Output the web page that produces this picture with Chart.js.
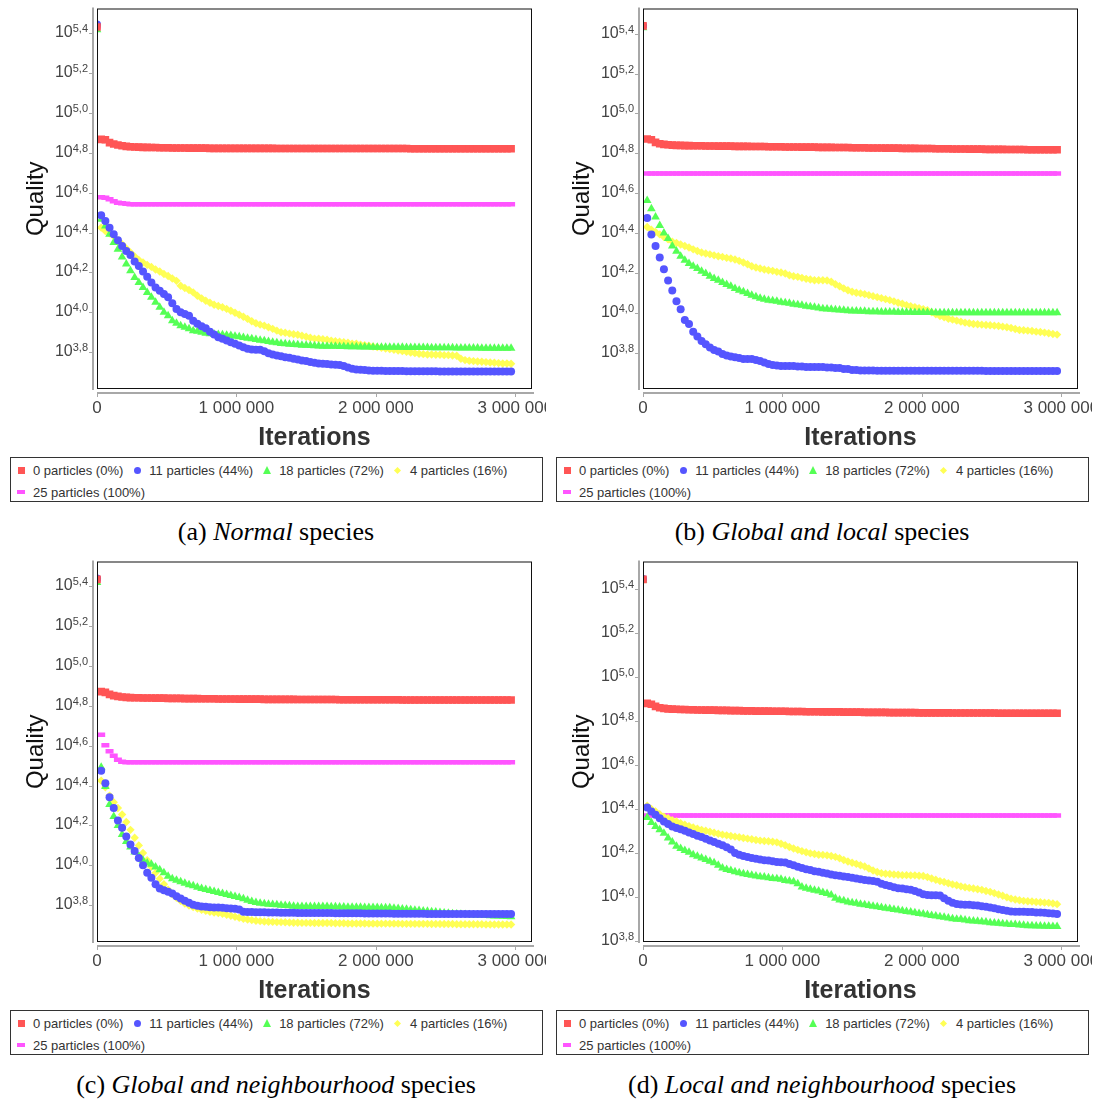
<!DOCTYPE html>
<html>
<head>
<meta charset="utf-8">
<script src="https://cdn.jsdelivr.net/npm/chart.js@4.4.1/dist/chart.umd.min.js"></script>
<style>
  body { margin: 0; background: #fff; width: 1101px; height: 1101px; position: relative; overflow: hidden; font-family: "Liberation Sans", Arial, sans-serif; }
  canvas { position: absolute; }
  .legend { position: absolute; width: 531px; height: 43px; border: 1px solid #333; }
  .row { position: absolute; left: 6px; height: 22px; display: flex; align-items: center; font-size: 13px; color: #333; white-space: nowrap; }
  .item { display: flex; align-items: center; margin-right: 10px; }
  .mk { width: 8px; height: 8px; margin-right: 8px; display: flex; align-items: center; justify-content: center; }
  .caption { position: absolute; width: 552px; text-align: center; line-height: 30px; font-family: "Liberation Serif", "Times New Roman", serif; font-size: 26px; color: #000; }
</style>
</head>
<body>
<canvas id="chartA" width="546" height="452" style="left:0;top:0"></canvas>
<canvas id="chartB" width="546" height="452" style="left:546px;top:0"></canvas>
<canvas id="chartC" width="546" height="452" style="left:0;top:553px"></canvas>
<canvas id="chartD" width="546" height="452" style="left:546px;top:553px"></canvas>

<script>
// sampling grid: one point every 30 000 iterations
const sampleStep = 30000;

const seriesLabels = ['0 particles (0%)', '11 particles (44%)', '18 particles (72%)', '4 particles (16%)', '25 particles (100%)'];
const seriesColors = ['#FF5555', '#5555FF', '#55FF55', '#FFFF55', '#FF55FF'];

const xTickValues = [0, 1000000, 2000000, 3000000];
const xTickLabels = ['0', '1 000 000', '2 000 000', '3 000 000'];
const yTickExps = [3.8, 4.0, 4.2, 4.4, 4.6, 4.8, 5.0, 5.2, 5.4];
const yTickLabels = ['3,8', '4,0', '4,2', '4,4', '4,6', '4,8', '5,0', '5,2', '5,4'];

// values are log10(quality)
// (a) Normal species
const aRed = [
  5.432, 4.868, 4.866, 4.852, 4.845, 4.840, 4.836, 4.833, 4.831, 4.830,
  4.829, 4.828, 4.828, 4.827, 4.827, 4.826, 4.826, 4.826, 4.825, 4.825,
  4.825, 4.825, 4.824, 4.824, 4.824, 4.824, 4.824, 4.823, 4.823, 4.823,
  4.823, 4.823, 4.823, 4.823, 4.823, 4.823, 4.823, 4.823, 4.823, 4.823,
  4.823, 4.823, 4.823, 4.822, 4.822, 4.822, 4.822, 4.822, 4.822, 4.822,
  4.822, 4.822, 4.822, 4.822, 4.822, 4.822, 4.822, 4.822, 4.822, 4.822,
  4.822, 4.822, 4.822, 4.822, 4.822, 4.822, 4.822, 4.822, 4.822, 4.822,
  4.822, 4.822, 4.822, 4.822, 4.822, 4.821, 4.821, 4.821, 4.821, 4.821,
  4.821, 4.821, 4.821, 4.821, 4.821, 4.821, 4.821, 4.821, 4.821, 4.821,
  4.821, 4.821, 4.821, 4.821, 4.821, 4.821, 4.821, 4.821, 4.821, 4.821
];
const aBlue = [
  5.445, 4.487, 4.458, 4.425, 4.392, 4.362, 4.333, 4.308, 4.288, 4.255,
  4.233, 4.205, 4.178, 4.150, 4.125, 4.108, 4.092, 4.075, 4.045, 4.017,
  4.000, 3.992, 3.983, 3.958, 3.942, 3.930, 3.920, 3.903, 3.888, 3.875,
  3.867, 3.858, 3.850, 3.842, 3.833, 3.825, 3.817, 3.813, 3.812, 3.812,
  3.805, 3.795, 3.788, 3.783, 3.780, 3.775, 3.772, 3.767, 3.763, 3.758,
  3.755, 3.750, 3.747, 3.743, 3.742, 3.740, 3.738, 3.737, 3.735, 3.730,
  3.723, 3.717, 3.713, 3.712, 3.710, 3.708, 3.707, 3.706, 3.706, 3.705,
  3.705, 3.705, 3.705, 3.705, 3.704, 3.704, 3.704, 3.704, 3.704, 3.704,
  3.704, 3.704, 3.703, 3.703, 3.703, 3.703, 3.703, 3.703, 3.703, 3.703,
  3.703, 3.703, 3.703, 3.703, 3.703, 3.703, 3.703, 3.703, 3.703, 3.703
];
const aGreen = [
  5.418, 4.467, 4.433, 4.392, 4.350, 4.317, 4.278, 4.242, 4.208, 4.175,
  4.150, 4.125, 4.100, 4.075, 4.050, 4.025, 4.000, 3.983, 3.958, 3.945,
  3.933, 3.925, 3.917, 3.908, 3.905, 3.900, 3.895, 3.892, 3.890, 3.888,
  3.887, 3.885, 3.883, 3.880, 3.877, 3.873, 3.870, 3.867, 3.863, 3.860,
  3.857, 3.853, 3.850, 3.847, 3.843, 3.842, 3.840, 3.838, 3.837, 3.835,
  3.834, 3.833, 3.832, 3.831, 3.830, 3.830, 3.829, 3.829, 3.828, 3.828,
  3.827, 3.827, 3.827, 3.826, 3.826, 3.826, 3.825, 3.825, 3.825, 3.825,
  3.824, 3.824, 3.824, 3.824, 3.823, 3.823, 3.823, 3.823, 3.823, 3.823,
  3.822, 3.822, 3.822, 3.822, 3.822, 3.822, 3.821, 3.821, 3.821, 3.821,
  3.821, 3.821, 3.820, 3.820, 3.820, 3.820, 3.820, 3.820, 3.820, 3.820
];
const aYellow = [
  5.440, 4.425, 4.408, 4.397, 4.382, 4.362, 4.342, 4.320, 4.300, 4.280,
  4.263, 4.250, 4.238, 4.228, 4.215, 4.205, 4.192, 4.182, 4.170, 4.158,
  4.133, 4.122, 4.112, 4.100, 4.083, 4.070, 4.058, 4.048, 4.038, 4.032,
  4.025, 4.017, 4.008, 3.998, 3.988, 3.978, 3.967, 3.955, 3.945, 3.938,
  3.933, 3.925, 3.917, 3.908, 3.900, 3.897, 3.893, 3.890, 3.887, 3.882,
  3.877, 3.872, 3.868, 3.867, 3.865, 3.862, 3.858, 3.855, 3.852, 3.850,
  3.847, 3.843, 3.842, 3.838, 3.835, 3.832, 3.828, 3.825, 3.822, 3.818,
  3.815, 3.812, 3.808, 3.805, 3.802, 3.798, 3.795, 3.792, 3.790, 3.788,
  3.788, 3.787, 3.787, 3.785, 3.785, 3.783, 3.782, 3.767, 3.760, 3.757,
  3.755, 3.753, 3.752, 3.750, 3.748, 3.747, 3.745, 3.743, 3.743, 3.742
];
const aMagenta = [
  5.436, 4.578, 4.575, 4.567, 4.557, 4.550, 4.547, 4.545, 4.543, 4.542,
  4.542, 4.542, 4.542, 4.542, 4.542, 4.542, 4.542, 4.542, 4.542, 4.542,
  4.542, 4.542, 4.542, 4.542, 4.542, 4.542, 4.542, 4.542, 4.542, 4.542,
  4.542, 4.542, 4.542, 4.542, 4.542, 4.542, 4.542, 4.542, 4.542, 4.542,
  4.542, 4.542, 4.542, 4.542, 4.542, 4.542, 4.542, 4.542, 4.542, 4.542,
  4.542, 4.542, 4.542, 4.542, 4.542, 4.542, 4.542, 4.542, 4.542, 4.542,
  4.542, 4.542, 4.542, 4.542, 4.542, 4.542, 4.542, 4.542, 4.542, 4.542,
  4.542, 4.542, 4.542, 4.542, 4.542, 4.542, 4.542, 4.542, 4.542, 4.542,
  4.542, 4.542, 4.542, 4.542, 4.542, 4.542, 4.542, 4.542, 4.542, 4.542,
  4.542, 4.542, 4.542, 4.542, 4.542, 4.542, 4.542, 4.542, 4.542, 4.542
];

// (b) Global and local species
const bRed = [
  5.440, 4.872, 4.868, 4.855, 4.848, 4.845, 4.843, 4.841, 4.840, 4.840,
  4.839, 4.839, 4.838, 4.838, 4.838, 4.837, 4.837, 4.837, 4.836, 4.836,
  4.836, 4.836, 4.835, 4.835, 4.835, 4.835, 4.834, 4.834, 4.834, 4.834,
  4.833, 4.833, 4.833, 4.833, 4.832, 4.832, 4.832, 4.832, 4.831, 4.831,
  4.831, 4.831, 4.830, 4.830, 4.830, 4.830, 4.829, 4.829, 4.829, 4.829,
  4.828, 4.828, 4.828, 4.828, 4.827, 4.827, 4.827, 4.827, 4.826, 4.826,
  4.826, 4.826, 4.825, 4.825, 4.825, 4.825, 4.824, 4.824, 4.824, 4.824,
  4.823, 4.823, 4.823, 4.823, 4.822, 4.822, 4.822, 4.822, 4.821, 4.821,
  4.821, 4.821, 4.820, 4.820, 4.820, 4.820, 4.820, 4.819, 4.819, 4.819,
  4.819, 4.819, 4.818, 4.818, 4.818, 4.818, 4.818, 4.818, 4.818, 4.818
];
const bBlue = [
  5.440, 4.475, 4.393, 4.335, 4.277, 4.218, 4.162, 4.112, 4.058, 4.017,
  3.963, 3.943, 3.905, 3.880, 3.858, 3.842, 3.825, 3.813, 3.805, 3.793,
  3.785, 3.780, 3.777, 3.772, 3.768, 3.768, 3.767, 3.763, 3.757, 3.750,
  3.742, 3.737, 3.735, 3.733, 3.733, 3.732, 3.732, 3.730, 3.730, 3.728,
  3.728, 3.727, 3.727, 3.727, 3.725, 3.725, 3.723, 3.722, 3.718, 3.717,
  3.713, 3.712, 3.710, 3.710, 3.710, 3.710, 3.709, 3.709, 3.709, 3.709,
  3.709, 3.709, 3.708, 3.708, 3.708, 3.708, 3.708, 3.708, 3.708, 3.708,
  3.708, 3.708, 3.708, 3.708, 3.708, 3.708, 3.708, 3.708, 3.708, 3.708,
  3.708, 3.708, 3.707, 3.707, 3.707, 3.707, 3.707, 3.707, 3.707, 3.707,
  3.707, 3.707, 3.707, 3.707, 3.707, 3.707, 3.707, 3.707, 3.707, 3.707
];
const bGreen = [
  5.430, 4.563, 4.522, 4.480, 4.438, 4.400, 4.372, 4.335, 4.308, 4.283,
  4.263, 4.247, 4.233, 4.222, 4.208, 4.197, 4.183, 4.172, 4.163, 4.152,
  4.142, 4.133, 4.122, 4.113, 4.105, 4.097, 4.088, 4.080, 4.073, 4.068,
  4.063, 4.060, 4.057, 4.053, 4.050, 4.047, 4.043, 4.040, 4.037, 4.033,
  4.030, 4.027, 4.023, 4.020, 4.018, 4.017, 4.015, 4.013, 4.012, 4.010,
  4.008, 4.008, 4.007, 4.007, 4.005, 4.005, 4.005, 4.004, 4.004, 4.003,
  4.003, 4.002, 4.002, 4.002, 4.002, 4.001, 4.001, 4.001, 4.001, 4.001,
  4.000, 4.000, 4.000, 4.000, 4.000, 4.000, 4.000, 4.000, 4.000, 4.000,
  4.000, 4.000, 4.000, 4.000, 4.000, 4.000, 4.000, 4.000, 4.000, 4.000,
  4.000, 4.000, 4.000, 4.000, 4.000, 4.000, 4.000, 4.000, 4.000, 4.000
];
const bYellow = [
  5.440, 4.430, 4.417, 4.405, 4.393, 4.380, 4.368, 4.357, 4.350, 4.342,
  4.335, 4.327, 4.318, 4.310, 4.302, 4.297, 4.293, 4.288, 4.283, 4.280,
  4.275, 4.272, 4.267, 4.260, 4.252, 4.243, 4.233, 4.227, 4.222, 4.217,
  4.213, 4.210, 4.205, 4.202, 4.197, 4.188, 4.183, 4.180, 4.175, 4.170,
  4.167, 4.163, 4.163, 4.163, 4.162, 4.155, 4.143, 4.133, 4.122, 4.113,
  4.105, 4.100, 4.097, 4.093, 4.088, 4.083, 4.078, 4.073, 4.068, 4.063,
  4.057, 4.050, 4.045, 4.038, 4.033, 4.028, 4.023, 4.018, 4.012, 4.002,
  3.992, 3.983, 3.977, 3.970, 3.965, 3.960, 3.955, 3.950, 3.947, 3.943,
  3.942, 3.940, 3.938, 3.937, 3.935, 3.933, 3.930, 3.927, 3.923, 3.918,
  3.913, 3.912, 3.910, 3.908, 3.905, 3.903, 3.900, 3.897, 3.893, 3.890
];
const bMagenta = [
  5.440, 4.699, 4.699, 4.699, 4.699, 4.699, 4.699, 4.699, 4.699, 4.699,
  4.699, 4.699, 4.699, 4.699, 4.699, 4.699, 4.699, 4.699, 4.699, 4.699,
  4.699, 4.699, 4.699, 4.699, 4.699, 4.699, 4.699, 4.699, 4.699, 4.699,
  4.699, 4.699, 4.699, 4.699, 4.699, 4.699, 4.699, 4.699, 4.699, 4.699,
  4.699, 4.699, 4.699, 4.699, 4.699, 4.699, 4.699, 4.699, 4.699, 4.699,
  4.699, 4.699, 4.699, 4.699, 4.699, 4.699, 4.699, 4.699, 4.699, 4.699,
  4.699, 4.699, 4.699, 4.699, 4.699, 4.699, 4.699, 4.699, 4.699, 4.699,
  4.699, 4.699, 4.699, 4.699, 4.699, 4.699, 4.699, 4.699, 4.699, 4.699,
  4.699, 4.699, 4.699, 4.699, 4.699, 4.699, 4.699, 4.699, 4.699, 4.699,
  4.699, 4.699, 4.699, 4.699, 4.699, 4.699, 4.699, 4.699, 4.699, 4.699
];

// (c) Global and neighbourhood species
const cRed = [
  5.435, 4.872, 4.868, 4.858, 4.852, 4.848, 4.845, 4.843, 4.842, 4.841,
  4.841, 4.840, 4.840, 4.840, 4.839, 4.839, 4.839, 4.838, 4.838, 4.838,
  4.838, 4.837, 4.837, 4.837, 4.837, 4.836, 4.836, 4.836, 4.836, 4.835,
  4.835, 4.835, 4.835, 4.835, 4.834, 4.834, 4.834, 4.834, 4.834, 4.834,
  4.833, 4.833, 4.833, 4.833, 4.833, 4.833, 4.833, 4.833, 4.832, 4.832,
  4.832, 4.832, 4.832, 4.832, 4.832, 4.832, 4.832, 4.832, 4.831, 4.831,
  4.831, 4.831, 4.831, 4.831, 4.831, 4.831, 4.831, 4.831, 4.831, 4.831,
  4.831, 4.831, 4.831, 4.830, 4.830, 4.830, 4.830, 4.830, 4.830, 4.830,
  4.830, 4.830, 4.830, 4.830, 4.830, 4.830, 4.830, 4.830, 4.830, 4.830,
  4.830, 4.830, 4.830, 4.830, 4.830, 4.830, 4.830, 4.830, 4.830, 4.830
];
const cBlue = [
  5.440, 4.475, 4.412, 4.342, 4.288, 4.225, 4.188, 4.145, 4.105, 4.072,
  4.037, 4.000, 3.962, 3.938, 3.905, 3.883, 3.875, 3.867, 3.858, 3.845,
  3.833, 3.822, 3.812, 3.802, 3.797, 3.793, 3.792, 3.790, 3.788, 3.788,
  3.787, 3.785, 3.783, 3.782, 3.778, 3.767, 3.765, 3.765, 3.764, 3.764,
  3.764, 3.763, 3.763, 3.763, 3.762, 3.762, 3.762, 3.762, 3.761, 3.761,
  3.761, 3.761, 3.760, 3.760, 3.760, 3.760, 3.760, 3.759, 3.759, 3.759,
  3.759, 3.759, 3.759, 3.759, 3.758, 3.758, 3.758, 3.758, 3.758, 3.758,
  3.758, 3.757, 3.757, 3.757, 3.757, 3.757, 3.757, 3.757, 3.757, 3.756,
  3.756, 3.756, 3.756, 3.756, 3.756, 3.756, 3.756, 3.756, 3.756, 3.756,
  3.755, 3.755, 3.755, 3.755, 3.755, 3.755, 3.755, 3.755, 3.755, 3.755
];
const cGreen = [
  5.420, 4.492, 4.395, 4.305, 4.245, 4.200, 4.155, 4.120, 4.092, 4.067,
  4.045, 4.025, 4.012, 4.005, 3.992, 3.978, 3.962, 3.945, 3.933, 3.925,
  3.917, 3.910, 3.903, 3.897, 3.890, 3.883, 3.878, 3.873, 3.868, 3.863,
  3.858, 3.853, 3.848, 3.843, 3.838, 3.832, 3.825, 3.818, 3.813, 3.810,
  3.807, 3.805, 3.803, 3.802, 3.800, 3.798, 3.797, 3.795, 3.793, 3.793,
  3.793, 3.793, 3.793, 3.793, 3.793, 3.793, 3.792, 3.792, 3.791, 3.791,
  3.790, 3.790, 3.789, 3.789, 3.788, 3.788, 3.788, 3.788, 3.787, 3.787,
  3.787, 3.785, 3.783, 3.781, 3.779, 3.777, 3.775, 3.773, 3.771, 3.769,
  3.767, 3.765, 3.763, 3.761, 3.759, 3.757, 3.755, 3.754, 3.753, 3.752,
  3.751, 3.750, 3.749, 3.748, 3.747, 3.746, 3.745, 3.744, 3.743, 3.742
];
const cYellow = [
  5.440, 4.425, 4.392, 4.350, 4.317, 4.288, 4.255, 4.217, 4.178, 4.138,
  4.100, 4.062, 4.025, 3.992, 3.962, 3.933, 3.905, 3.878, 3.855, 3.837,
  3.822, 3.808, 3.798, 3.790, 3.783, 3.777, 3.772, 3.767, 3.763, 3.760,
  3.757, 3.752, 3.747, 3.742, 3.737, 3.732, 3.728, 3.725, 3.722, 3.720,
  3.718, 3.717, 3.716, 3.715, 3.715, 3.714, 3.713, 3.712, 3.712, 3.711,
  3.711, 3.711, 3.710, 3.710, 3.710, 3.710, 3.710, 3.709, 3.709, 3.709,
  3.708, 3.708, 3.708, 3.708, 3.708, 3.707, 3.707, 3.707, 3.707, 3.707,
  3.707, 3.707, 3.707, 3.706, 3.706, 3.706, 3.706, 3.706, 3.706, 3.706,
  3.705, 3.705, 3.705, 3.705, 3.705, 3.705, 3.704, 3.704, 3.704, 3.704,
  3.704, 3.704, 3.704, 3.703, 3.703, 3.703, 3.703, 3.703, 3.703, 3.703
];
const cMagenta = [
  5.436, 4.655, 4.603, 4.572, 4.550, 4.530, 4.520, 4.517, 4.517, 4.517,
  4.517, 4.517, 4.517, 4.517, 4.517, 4.517, 4.517, 4.517, 4.517, 4.517,
  4.517, 4.517, 4.517, 4.517, 4.517, 4.517, 4.517, 4.517, 4.517, 4.517,
  4.517, 4.517, 4.517, 4.517, 4.517, 4.517, 4.517, 4.517, 4.517, 4.517,
  4.517, 4.517, 4.517, 4.517, 4.517, 4.517, 4.517, 4.517, 4.517, 4.517,
  4.517, 4.517, 4.517, 4.517, 4.517, 4.517, 4.517, 4.517, 4.517, 4.517,
  4.517, 4.517, 4.517, 4.517, 4.517, 4.517, 4.517, 4.517, 4.517, 4.517,
  4.517, 4.517, 4.517, 4.517, 4.517, 4.517, 4.517, 4.517, 4.517, 4.517,
  4.517, 4.517, 4.517, 4.517, 4.517, 4.517, 4.517, 4.517, 4.517, 4.517,
  4.517, 4.517, 4.517, 4.517, 4.517, 4.517, 4.517, 4.517, 4.517, 4.517
];

// (d) Local and neighbourhood species
const dRed = [
  5.444, 4.880, 4.876, 4.866, 4.860, 4.857, 4.855, 4.854, 4.853, 4.852,
  4.852, 4.851, 4.851, 4.850, 4.850, 4.849, 4.849, 4.849, 4.848, 4.848,
  4.848, 4.847, 4.847, 4.847, 4.846, 4.846, 4.846, 4.845, 4.845, 4.845,
  4.845, 4.844, 4.844, 4.844, 4.844, 4.843, 4.843, 4.843, 4.843, 4.842,
  4.842, 4.842, 4.842, 4.841, 4.841, 4.841, 4.841, 4.841, 4.840, 4.840,
  4.840, 4.840, 4.840, 4.839, 4.839, 4.839, 4.839, 4.839, 4.839, 4.838,
  4.838, 4.838, 4.838, 4.838, 4.838, 4.838, 4.837, 4.837, 4.837, 4.837,
  4.837, 4.837, 4.837, 4.837, 4.836, 4.836, 4.836, 4.836, 4.836, 4.836,
  4.836, 4.836, 4.836, 4.836, 4.836, 4.835, 4.835, 4.835, 4.835, 4.835,
  4.835, 4.835, 4.835, 4.835, 4.835, 4.835, 4.835, 4.835, 4.835, 4.835
];
const dBlue = [
  5.446, 4.406, 4.388, 4.373, 4.358, 4.343, 4.331, 4.320, 4.313, 4.308,
  4.301, 4.293, 4.286, 4.278, 4.272, 4.265, 4.257, 4.250, 4.242, 4.235,
  4.226, 4.215, 4.200, 4.192, 4.186, 4.182, 4.177, 4.173, 4.170, 4.167,
  4.165, 4.162, 4.159, 4.158, 4.156, 4.150, 4.144, 4.137, 4.131, 4.126,
  4.122, 4.117, 4.114, 4.110, 4.107, 4.102, 4.099, 4.096, 4.093, 4.090,
  4.087, 4.084, 4.080, 4.077, 4.075, 4.072, 4.069, 4.060, 4.054, 4.050,
  4.044, 4.039, 4.038, 4.035, 4.032, 4.027, 4.020, 4.012, 4.009, 4.008,
  4.008, 4.006, 3.994, 3.982, 3.974, 3.968, 3.965, 3.964, 3.964, 3.962,
  3.961, 3.958, 3.955, 3.952, 3.949, 3.944, 3.940, 3.937, 3.934, 3.932,
  3.932, 3.932, 3.931, 3.931, 3.929, 3.929, 3.928, 3.926, 3.925, 3.922
];
const dGreen = [
  5.440, 4.361, 4.338, 4.320, 4.305, 4.290, 4.268, 4.250, 4.230, 4.220,
  4.211, 4.203, 4.192, 4.185, 4.177, 4.170, 4.162, 4.155, 4.144, 4.132,
  4.125, 4.120, 4.114, 4.110, 4.105, 4.102, 4.098, 4.095, 4.092, 4.090,
  4.087, 4.084, 4.083, 4.080, 4.075, 4.072, 4.069, 4.060, 4.045, 4.039,
  4.035, 4.030, 4.027, 4.020, 4.015, 4.009, 3.994, 3.986, 3.982, 3.977,
  3.974, 3.971, 3.967, 3.964, 3.961, 3.958, 3.955, 3.952, 3.949, 3.946,
  3.943, 3.940, 3.937, 3.934, 3.931, 3.928, 3.925, 3.922, 3.919, 3.916,
  3.913, 3.910, 3.907, 3.904, 3.901, 3.899, 3.898, 3.895, 3.892, 3.890,
  3.889, 3.887, 3.886, 3.883, 3.881, 3.880, 3.878, 3.877, 3.875, 3.874,
  3.872, 3.871, 3.869, 3.869, 3.868, 3.868, 3.867, 3.867, 3.865, 3.865
];
const dYellow = [
  5.440, 4.415, 4.400, 4.388, 4.376, 4.365, 4.358, 4.349, 4.343, 4.335,
  4.328, 4.322, 4.316, 4.310, 4.305, 4.301, 4.296, 4.292, 4.287, 4.283,
  4.280, 4.277, 4.274, 4.271, 4.268, 4.265, 4.262, 4.259, 4.256, 4.254,
  4.253, 4.251, 4.248, 4.242, 4.235, 4.227, 4.220, 4.214, 4.208, 4.203,
  4.198, 4.195, 4.192, 4.191, 4.189, 4.186, 4.182, 4.176, 4.168, 4.161,
  4.155, 4.150, 4.144, 4.138, 4.129, 4.120, 4.113, 4.108, 4.105, 4.104,
  4.102, 4.101, 4.099, 4.099, 4.098, 4.098, 4.096, 4.095, 4.090, 4.084,
  4.078, 4.072, 4.068, 4.062, 4.057, 4.053, 4.048, 4.044, 4.041, 4.038,
  4.035, 4.032, 4.027, 4.023, 4.017, 4.011, 4.005, 3.998, 3.992, 3.988,
  3.985, 3.982, 3.980, 3.979, 3.977, 3.976, 3.974, 3.973, 3.970, 3.967
];
const dMagenta = [
  5.440, 4.370, 4.370, 4.370, 4.370, 4.370, 4.370, 4.370, 4.370, 4.370,
  4.370, 4.370, 4.370, 4.370, 4.370, 4.370, 4.370, 4.370, 4.370, 4.370,
  4.370, 4.370, 4.370, 4.370, 4.370, 4.370, 4.370, 4.370, 4.370, 4.370,
  4.370, 4.370, 4.370, 4.370, 4.370, 4.370, 4.370, 4.370, 4.370, 4.370,
  4.370, 4.370, 4.370, 4.370, 4.370, 4.370, 4.370, 4.370, 4.370, 4.370,
  4.370, 4.370, 4.370, 4.370, 4.370, 4.370, 4.370, 4.370, 4.370, 4.370,
  4.370, 4.370, 4.370, 4.370, 4.370, 4.370, 4.370, 4.370, 4.370, 4.370,
  4.370, 4.370, 4.370, 4.370, 4.370, 4.370, 4.370, 4.370, 4.370, 4.370,
  4.370, 4.370, 4.370, 4.370, 4.370, 4.370, 4.370, 4.370, 4.370, 4.370,
  4.370, 4.370, 4.370, 4.370, 4.370, 4.370, 4.370, 4.370, 4.370, 4.370
];

const panels = [
  { id: 'chartA', series: [aRed, aBlue, aGreen, aYellow, aMagenta], yMin: 3.615, yMax: 5.525, tag: '(a)', name: 'Normal', left: 0, top: 0 },
  { id: 'chartB', series: [bRed, bBlue, bGreen, bYellow, bMagenta], yMin: 3.617, yMax: 5.527, tag: '(b)', name: 'Global and local', left: 546, top: 0 },
  { id: 'chartC', series: [cRed, cBlue, cGreen, cYellow, cMagenta], yMin: 3.615, yMax: 5.525, tag: '(c)', name: 'Global and neighbourhood', left: 0, top: 553 },
  { id: 'chartD', series: [dRed, dBlue, dGreen, dYellow, dMagenta], yMin: 3.795, yMax: 5.525, tag: '(d)', name: 'Local and neighbourhood', left: 546, top: 553 }
];

const pointStyles = ['rect', 'circle', 'triangle', 'rectRot', 'line'];
const pointRadii = [5.4, 4, 5, 4.2, 4];
const fontFamily = '"Liberation Sans", Arial, sans-serif';
Chart.defaults.font.family = fontFamily;

// frame, offset grey axes, tick marks and 10^x labels
const axisPlugin = {
  id: 'axisFrame',
  afterDraw(chart) {
    const ctx = chart.ctx;
    const a = chart.chartArea;
    const xs = chart.scales.x;
    const ys = chart.scales.y;
    ctx.save();
    ctx.strokeStyle = '#a8a8a8';
    ctx.lineWidth = 2;
    ctx.beginPath();
    ctx.moveTo(a.left - 4, a.top - 1);
    ctx.lineTo(a.left - 4, a.bottom + 1);
    ctx.moveTo(a.left, a.bottom + 4);
    ctx.lineTo(a.right + 2, a.bottom + 4);
    ctx.stroke();
    ctx.lineWidth = 1;
    ctx.beginPath();
    yTickExps.forEach(e => {
      const py = Math.round(ys.getPixelForValue(Math.pow(10, e))) + 0.5;
      ctx.moveTo(a.left - 8, py);
      ctx.lineTo(a.left - 4, py);
    });
    xTickValues.forEach(v => {
      const px = Math.round(xs.getPixelForValue(v)) + 0.5;
      ctx.moveTo(px, a.bottom + 4);
      ctx.lineTo(px, a.bottom + 8);
    });
    ctx.stroke();

    ctx.strokeStyle = '#111';
    ctx.lineWidth = 1;
    ctx.strokeRect(a.left + 0.5, a.top + 0.5, a.width - 1, a.height - 1);

    ctx.fillStyle = '#444';
    ctx.textAlign = 'left';
    ctx.textBaseline = 'alphabetic';
    yTickExps.forEach((e, i) => {
      const py = ys.getPixelForValue(Math.pow(10, e));
      ctx.font = '11px ' + fontFamily;
      const sw = ctx.measureText(yTickLabels[i]).width;
      const supX = a.left - 9 - sw;
      ctx.fillText(yTickLabels[i], supX, py - 1);
      ctx.font = '16px ' + fontFamily;
      const bw = ctx.measureText('10').width;
      ctx.fillText('10', supX - bw, py + 4);
    });
    ctx.restore();
  }
};

function buildChart(p) {
  const datasets = p.series.map((vals, k) => ({
    label: seriesLabels[k],
    data: vals.map((e, i) => ({ x: i * sampleStep, y: Math.pow(10, e) })),
    showLine: false,
    pointStyle: pointStyles[k],
    pointRadius: pointRadii[k],
    pointHoverRadius: pointRadii[k],
    pointBackgroundColor: seriesColors[k],
    pointBorderColor: seriesColors[k],
    pointBorderWidth: k === 4 ? 4.5 : 0,
    clip: 0
  }));
  new Chart(document.getElementById(p.id).getContext('2d'), {
    type: 'scatter',
    data: { datasets },
    options: {
      responsive: false,
      animation: false,
      devicePixelRatio: 1,
      layout: { padding: { top: 7, right: 14, left: 0, bottom: 0 } },
      plugins: { legend: { display: false }, tooltip: { enabled: false } },
      scales: {
        x: {
          type: 'linear',
          min: 0,
          max: 3120000,
          grid: { display: false, drawTicks: false },
          border: { display: false },
          afterBuildTicks: s => { s.ticks = xTickValues.map(v => ({ value: v })); },
          afterFit: s => { s.height = 63; s.paddingLeft = 0; s.paddingRight = 0; },
          ticks: {
            autoSkip: false, maxRotation: 0, minRotation: 0, padding: 9,
            color: '#444', font: { size: 17 },
            callback: (v, i) => xTickLabels[i]
          },
          title: { display: true, text: 'Iterations', color: '#333', font: { size: 25, weight: 'bold' }, padding: { top: 0, bottom: -1 } }
        },
        y: {
          type: 'logarithmic',
          min: Math.pow(10, p.yMin),
          max: Math.pow(10, p.yMax),
          grid: { display: false, drawTicks: false },
          border: { display: false },
          ticks: { display: false },
          afterFit: s => { s.width = 97; s.paddingTop = 0; s.paddingBottom = 0; },
          title: { display: true, text: 'Quality', color: '#111', font: { size: 24 }, padding: { top: 22, bottom: 0 } }
        }
      }
    },
    plugins: [axisPlugin]
  });
}

function markerHtml(k, color) {
  if (k === 0) return `<div style="width:7px;height:7px;background:${color}"></div>`;
  if (k === 1) return `<div style="width:7px;height:7px;border-radius:50%;background:${color}"></div>`;
  if (k === 2) return `<div style="width:0;height:0;border-left:4.5px solid transparent;border-right:4.5px solid transparent;border-bottom:8px solid ${color}"></div>`;
  if (k === 3) return `<div style="width:5px;height:5px;transform:rotate(45deg);background:${color}"></div>`;
  return `<div style="width:8px;height:4px;background:${color}"></div>`;
}

function buildLegend(p) {
  const box = document.createElement('div');
  box.className = 'legend';
  box.style.left = (p.left + 10) + 'px';
  box.style.top = (p.top + 457) + 'px';
  const rows = [[0, 1, 2, 3], [4]];
  rows.forEach((idx, r) => {
    const row = document.createElement('div');
    row.className = 'row';
    row.style.top = (1 + r * 22) + 'px';
    idx.forEach(k => {
      const item = document.createElement('div');
      item.className = 'item';
      item.innerHTML = `<div class="mk">${markerHtml(k, seriesColors[k])}</div><span>${seriesLabels[k]}</span>`;
      row.appendChild(item);
    });
    box.appendChild(row);
  });
  document.body.appendChild(box);

  const cap = document.createElement('div');
  cap.className = 'caption';
  cap.style.left = p.left + 'px';
  cap.style.top = (p.top + 517) + 'px';
  cap.innerHTML = `${p.tag} <i>${p.name}</i> species`;
  document.body.appendChild(cap);
}

panels.forEach(p => { buildChart(p); buildLegend(p); });
</script>
</body>
</html>
